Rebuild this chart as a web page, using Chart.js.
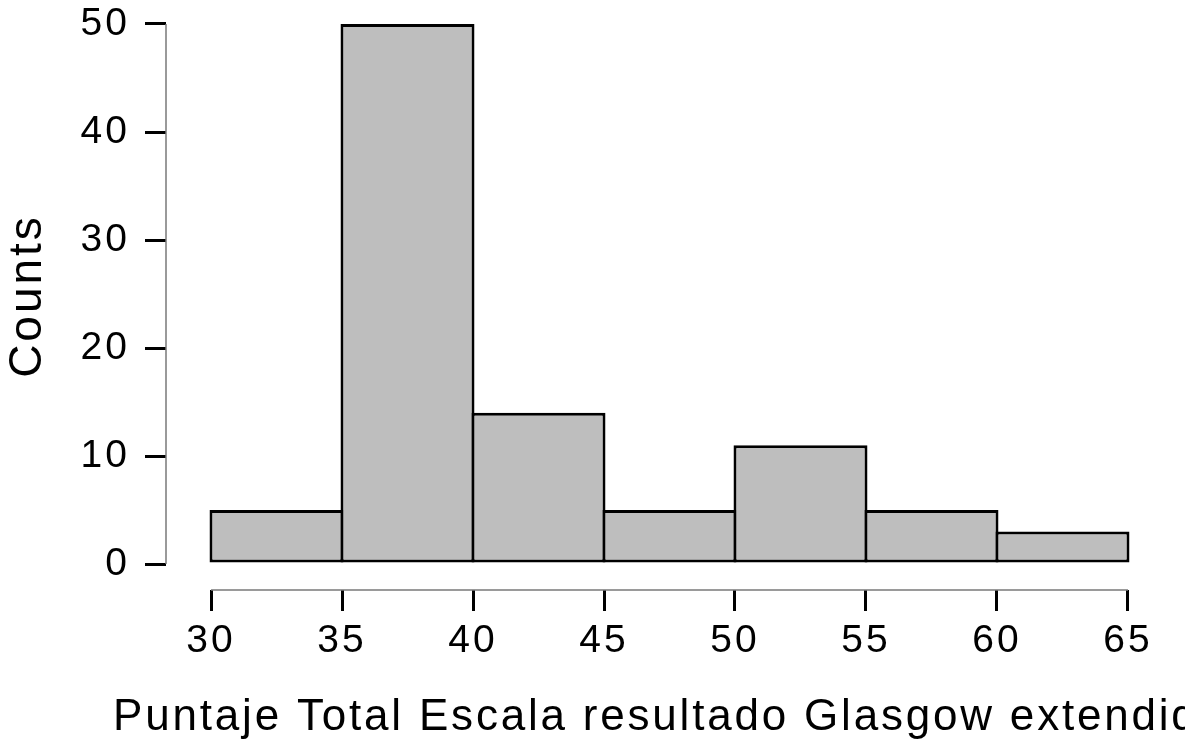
<!DOCTYPE html>
<html>
<head>
<meta charset="utf-8">
<script src="https://cdn.jsdelivr.net/npm/chart.js@4/dist/chart.umd.min.js"></script>
<style>
  html, body { margin: 0; padding: 0; background: #ffffff; }
  #wrap { width: 1185px; height: 742px; position: relative; }
</style>
</head>
<body>
<div id="wrap"><canvas id="hist"></canvas></div>
<script>
// Histogram of total scores: bin edges every 5 points
const binStarts = [30, 35, 40, 45, 50, 55, 60];
const binWidth = 5;
const counts = [5, 50, 14, 5, 11, 5, 3];
const xTickValues = [30, 35, 40, 45, 50, 55, 60, 65];
const yTickValues = [0, 10, 20, 30, 40, 50];
const xTitle = 'Puntaje Total Escala resultado Glasgow extendido';
const yTitle = 'Counts';

const FONT = '"Liberation Sans", Arial, Helvetica, sans-serif';
const LETTER_SPACING = '3px';
const TITLE_SPACING = '2.8px';

// each bar sits at the middle of its bin on a linear axis
const points = binStarts.map((s, i) => ({ x: s + binWidth / 2, y: counts[i] }));

// wide text tracking, re-applied after every canvas resize
const tracking = {
  id: 'tracking',
  beforeLayout(chart) { chart.ctx.letterSpacing = LETTER_SPACING; },
  beforeDraw(chart) { chart.ctx.letterSpacing = LETTER_SPACING; }
};

// axis lines that only span the labelled range (detached axes),
// plus the x-axis title centred on the plot region and allowed to run off the edge
const axisDecor = {
  id: 'axisDecor',
  afterDraw(chart) {
    const { ctx, scales: { x, y }, chartArea } = chart;
    ctx.save();
    ctx.strokeStyle = '#7a7a7a';
    ctx.lineWidth = 1.5;
    ctx.beginPath();
    const x0 = x.getPixelForValue(xTickValues[0]);
    const x1 = x.getPixelForValue(xTickValues[xTickValues.length - 1]);
    ctx.moveTo(x0, chartArea.bottom);
    ctx.lineTo(x1, chartArea.bottom);
    const y0 = y.getPixelForValue(yTickValues[0]);
    const y1 = y.getPixelForValue(yTickValues[yTickValues.length - 1]);
    ctx.moveTo(chartArea.left, y0);
    ctx.lineTo(chartArea.left, y1);
    ctx.stroke();

    ctx.letterSpacing = TITLE_SPACING;
    ctx.font = '44px ' + FONT;
    ctx.fillStyle = '#000000';
    ctx.textAlign = 'center';
    ctx.textBaseline = 'alphabetic';
    ctx.fillText(xTitle, (chartArea.left + chartArea.right) / 2, x.bottom - 12);
    ctx.restore();
  }
};

new Chart(document.getElementById('hist'), {
  type: 'bar',
  data: {
    datasets: [{
      data: points,
      backgroundColor: '#bebebe',
      borderColor: '#000000',
      borderWidth: 3,
      borderSkipped: false,
      inflateAmount: 0,
      barThickness: 134
    }]
  },
  options: {
    responsive: true,
    maintainAspectRatio: false,
    animation: false,
    layout: { padding: { top: 2, right: 12, left: 0, bottom: 0 } },
    plugins: { legend: { display: false }, tooltip: { enabled: false } },
    scales: {
      x: {
        type: 'linear',
        offset: false,
        min: 28.282,
        max: 66.718,
        afterBuildTicks(scale) { scale.ticks = xTickValues.map(v => ({ value: v })); },
        afterFit(scale) {
          scale.height = 152;
          scale.paddingLeft = 0; scale.paddingRight = 0;
          scale.paddingTop = 0; scale.paddingBottom = 0;
        },
        border: { display: false },
        grid: { offset: false, drawOnChartArea: false, drawTicks: true, tickLength: 21, color: '#000000', lineWidth: 3 },
        ticks: { color: '#000000', font: { family: FONT, size: 39 }, padding: 7, maxRotation: 0, autoSkip: false },
        title: { display: false }
      },
      y: {
        type: 'linear',
        min: -2.407,
        max: 52.037,
        afterBuildTicks(scale) { scale.ticks = yTickValues.map(v => ({ value: v })); },
        afterFit(scale) {
          scale.width = 166;
          scale.paddingLeft = 0; scale.paddingRight = 0;
          scale.paddingTop = 0; scale.paddingBottom = 0;
        },
        border: { display: false },
        grid: { drawOnChartArea: false, drawTicks: true, tickLength: 21, color: '#000000', lineWidth: 3 },
        ticks: { color: '#000000', font: { family: FONT, size: 39 }, padding: 15 },
        title: { display: true, text: yTitle, color: '#000000', font: { family: FONT, size: 46, lineHeight: 1 }, padding: { top: 5, bottom: 0 } }
      }
    }
  },
  plugins: [tracking, axisDecor]
});
</script>
</body>
</html>
